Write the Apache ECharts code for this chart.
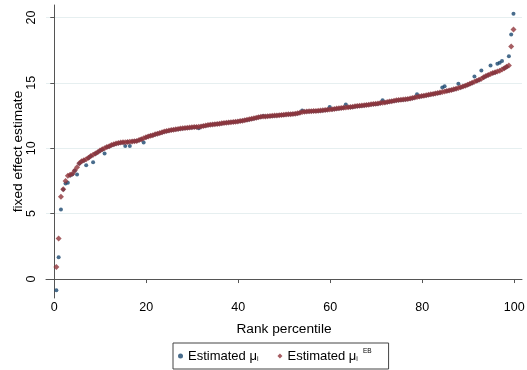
<!DOCTYPE html>
<html>
<head>
<meta charset="utf-8">
<script src="https://cdn.jsdelivr.net/npm/echarts@6/dist/echarts.min.js"></script>
<style>
  html, body { margin: 0; padding: 0; background: #fff; }
  #chart { width: 527px; height: 370px; }
</style>
</head>
<body>
<div id="chart"></div>
<script>
// rank percentile of the first unit and the spacing between ranks
const firstPct = 0.45
const pctStep = 0.4995

// Estimated mu_i (raw fixed effects), in rank order
const muRaw = [
  -0.86, 1.66, 5.31, 6.84, 7.30, 7.37, 7.92, 8.02, 8.27, 8.00,
  8.83, 8.98, 9.07, 8.70, 9.25, 9.38, 8.92, 9.58, 9.69, 9.80,
  9.90, 9.59, 10.08, 10.14, 10.22, 10.29, 10.35, 10.39, 10.42, 10.44,
  10.18, 10.47, 10.18, 10.51, 10.53, 10.55, 10.61, 10.68, 10.43, 10.82,
  10.89, 10.95, 10.99, 11.05, 11.10, 11.15, 11.21, 11.26, 11.30, 11.34,
  11.38, 11.41, 11.44, 11.46, 11.49, 11.51, 11.53, 11.55, 11.57, 11.59,
  11.61, 11.62, 11.52, 11.66, 11.69, 11.72, 11.76, 11.79, 11.81, 11.83,
  11.85, 11.87, 11.90, 11.92, 11.94, 11.96, 11.98, 12.00, 12.02, 12.04,
  12.07, 12.10, 12.13, 12.16, 12.20, 12.24, 12.28, 12.32, 12.36, 12.39,
  12.47, 12.42, 12.44, 12.45, 12.47, 12.49, 12.50, 12.52, 12.54, 12.55,
  12.57, 12.58, 12.59, 12.61, 12.63, 12.66, 12.71, 12.88, 12.78, 12.80,
  12.81, 12.82, 12.83, 12.84, 12.85, 12.87, 12.89, 12.91, 12.94, 13.15,
  12.97, 12.99, 13.02, 13.04, 13.06, 13.09, 13.34, 13.13, 13.14, 13.16,
  13.19, 13.21, 13.23, 13.25, 13.27, 13.30, 13.32, 13.35, 13.37, 13.39,
  13.41, 13.44, 13.67, 13.49, 13.52, 13.56, 13.59, 13.62, 13.65, 13.67,
  13.69, 13.71, 13.73, 13.76, 13.79, 13.83, 13.87, 14.13, 13.94, 13.98,
  14.01, 14.04, 14.07, 14.11, 14.14, 14.18, 14.21, 14.25, 14.64, 14.74,
  14.37, 14.41, 14.45, 14.49, 14.54, 14.92, 14.65, 14.71, 14.77, 14.84,
  14.91, 14.99, 15.49, 15.14, 15.22, 15.95, 15.41, 15.51, 15.59, 16.33,
  15.74, 15.79, 16.45, 16.53, 16.66, 16.11, 16.21, 17.04, 18.70, 20.28
]

// Estimated mu_i^EB (shrunken), same ranks
const muEB = [
  0.92, 3.09, 6.30, 6.86, 7.50, 7.90, 7.98, 8.05, 8.30, 8.55,
  8.85, 9.00, 9.08, 9.15, 9.27, 9.40, 9.50, 9.60, 9.70, 9.82,
  9.92, 10.00, 10.10, 10.15, 10.24, 10.30, 10.36, 10.40, 10.43, 10.45,
  10.46, 10.48, 10.50, 10.52, 10.54, 10.56, 10.62, 10.69, 10.76, 10.83,
  10.90, 10.96, 11.00, 11.06, 11.11, 11.16, 11.22, 11.27, 11.31, 11.35,
  11.39, 11.42, 11.45, 11.47, 11.50, 11.52, 11.54, 11.56, 11.58, 11.60,
  11.62, 11.63, 11.65, 11.67, 11.70, 11.73, 11.77, 11.80, 11.82, 11.84,
  11.86, 11.88, 11.91, 11.93, 11.95, 11.97, 11.99, 12.01, 12.03, 12.05,
  12.08, 12.11, 12.14, 12.17, 12.21, 12.25, 12.29, 12.33, 12.37, 12.40,
  12.42, 12.43, 12.45, 12.46, 12.48, 12.50, 12.51, 12.53, 12.55, 12.56,
  12.58, 12.59, 12.60, 12.62, 12.64, 12.67, 12.72, 12.77, 12.79, 12.81,
  12.82, 12.83, 12.84, 12.85, 12.86, 12.88, 12.90, 12.92, 12.95, 12.97,
  12.98, 13.00, 13.03, 13.05, 13.07, 13.10, 13.12, 13.14, 13.15, 13.17,
  13.20, 13.22, 13.24, 13.26, 13.28, 13.31, 13.33, 13.36, 13.38, 13.40,
  13.42, 13.45, 13.48, 13.50, 13.53, 13.57, 13.60, 13.63, 13.66, 13.68,
  13.70, 13.72, 13.74, 13.77, 13.80, 13.84, 13.88, 13.92, 13.95, 13.99,
  14.02, 14.05, 14.08, 14.12, 14.15, 14.19, 14.22, 14.26, 14.30, 14.34,
  14.38, 14.42, 14.46, 14.50, 14.55, 14.61, 14.66, 14.72, 14.78, 14.85,
  14.92, 15.00, 15.08, 15.15, 15.23, 15.32, 15.42, 15.52, 15.60, 15.68,
  15.75, 15.80, 15.86, 15.93, 16.02, 16.12, 16.22, 16.33, 17.78, 19.08
]

const xTicks = [0, 20, 40, 60, 80, 100]
const yTicks = [0, 5, 10, 15, 20]

const rankPct = muEB.map((v, i) => +(firstPct + i * pctStep).toFixed(2))
const rawData = muRaw.map((v, i) => [rankPct[i], v])
const ebData = muEB.map((v, i) => [rankPct[i], v])

const font = 'Liberation Sans, Arial, sans-serif'
const myChart = echarts.init(document.getElementById('chart'))

myChart.setOption({
  animation: false,
  backgroundColor: '#fff',
  textStyle: { fontFamily: font, color: '#000' },
  grid: { left: 46, right: 5, top: 5, bottom: 72, containLabel: false, outerBoundsMode: 'none' },
  legend: {
    left: 173,
    top: 343,
    padding: [5, 17, 5, 5],
    borderColor: '#444',
    borderWidth: 1,
    itemGap: 19,
    itemWidth: 5,
    itemHeight: 5,
    data: [
      { name: 'raw', icon: 'circle', itemStyle: { color: '#1a476f' } },
      { name: 'eb', icon: 'diamond', itemStyle: { color: '#90353b' } }
    ],
    formatter: function (name) {
      return name === 'raw' ? 'Estimated \u03bc{s|i}' : 'Estimated \u03bc{s|i}{sup|EB}'
    },
    textStyle: {
      fontFamily: font,
      fontSize: 13,
      color: '#000',
      lineHeight: 16,
      rich: {
        s: { fontFamily: font, fontSize: 7, verticalAlign: 'bottom', lineHeight: 16, padding: [0, 0, 1, 0] },
        sup: { fontFamily: font, fontSize: 6.5, verticalAlign: 'top', lineHeight: 16, padding: [0, 0, 0, 5] }
      }
    }
  },
  xAxis: {
    type: 'value',
    min: -1.8,
    max: 101.7,
    name: 'Rank percentile',
    nameLocation: 'middle',
    nameGap: 24,
    nameMoveOverlap: false,
    nameTextStyle: { fontFamily: font, fontSize: 13.7, color: '#000' },
    axisLine: { show: true, lineStyle: { color: '#555', width: 1 } },
    axisTick: { show: true, length: 4, customValues: xTicks, lineStyle: { color: '#555' } },
    axisLabel: { customValues: xTicks, margin: 3, fontSize: 12.5, color: '#000', fontFamily: font },
    splitLine: { show: false }
  },
  yAxis: {
    type: 'value',
    min: -1.45,
    max: 20.95,
    name: 'fixed effect estimate',
    nameLocation: 'middle',
    nameGap: 21,
    nameMoveOverlap: false,
    nameRotate: 90,
    nameTextStyle: { fontFamily: font, fontSize: 13.7, color: '#000' },
    axisLine: { show: true, lineStyle: { color: '#555', width: 1 } },
    axisTick: { show: true, length: 4, customValues: yTicks, lineStyle: { color: '#555' } },
    axisLabel: { customValues: yTicks, rotate: 90, margin: 8, fontSize: 12.5, color: '#000', fontFamily: font },
    splitLine: { show: true, lineStyle: { color: '#e6eff0', width: 1.2 } }
  },
  series: [
    {
      name: 'raw',
      type: 'scatter',
      symbol: 'circle',
      symbolSize: 4,
      itemStyle: { color: '#1a476f' },
      data: rawData,
      z: 2
    },
    {
      name: 'eb',
      type: 'scatter',
      symbol: 'diamond',
      symbolSize: 6,
      itemStyle: { color: '#90353b' },
      data: ebData,
      z: 3
    }
  ]
})
</script>
</body>
</html>
